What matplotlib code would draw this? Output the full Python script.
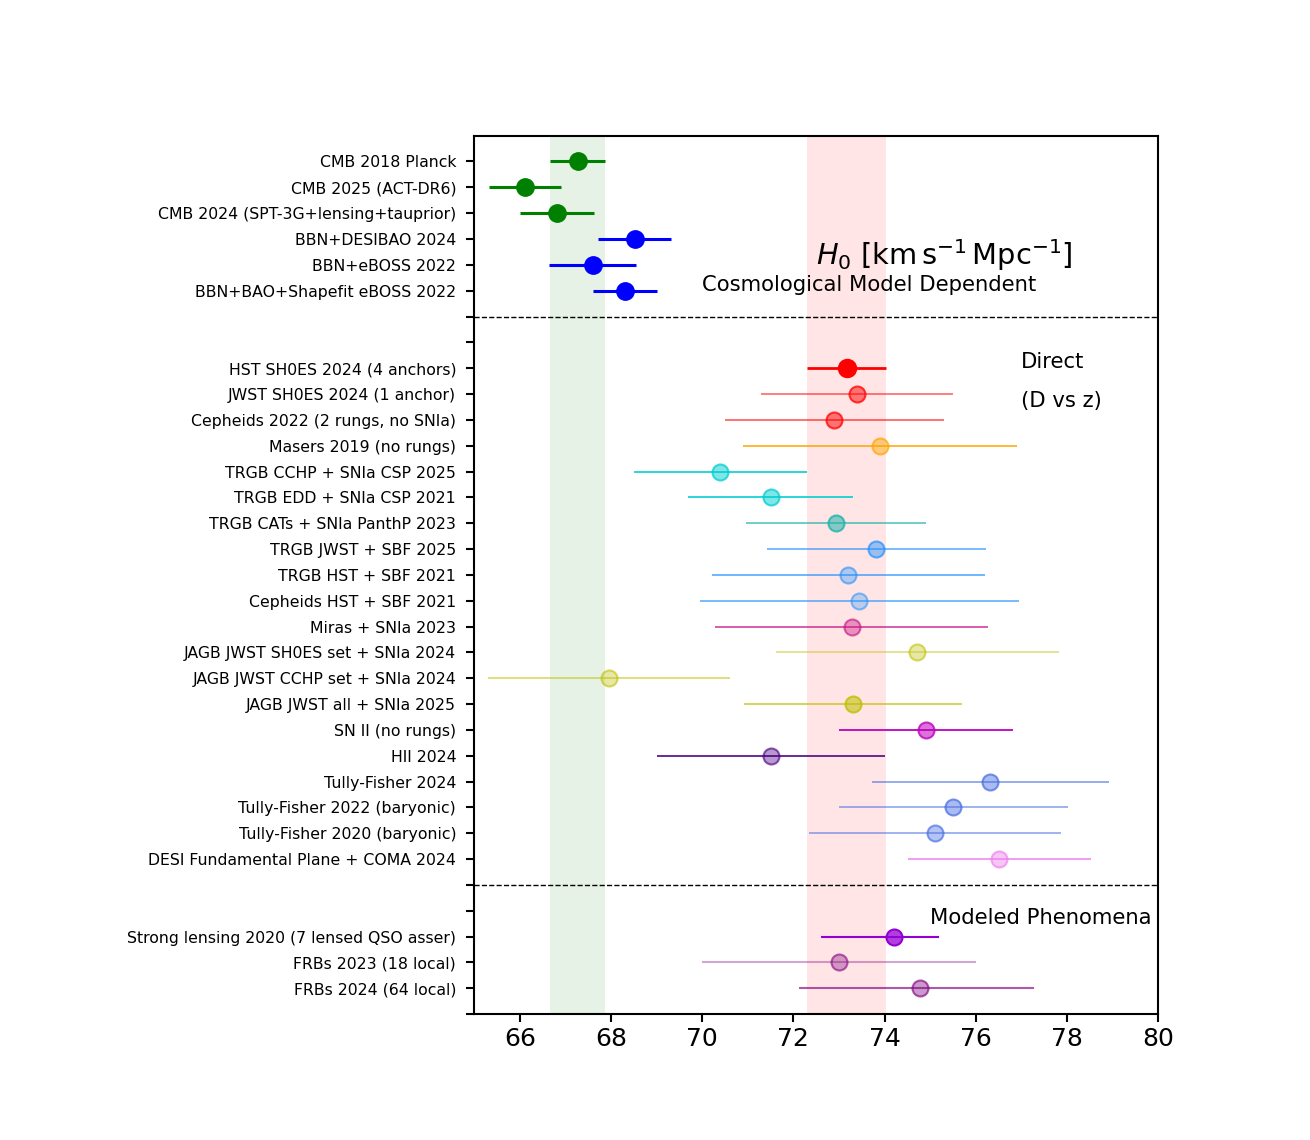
import matplotlib
matplotlib.use("Agg")
import matplotlib.pyplot as plt
from matplotlib.colors import to_rgba

# ---------------- data ----------------
labels_cosmo = ["CMB 2018 Planck", "CMB 2025 (ACT-DR6)", "CMB 2024 (SPT-3G+lensing+tauprior)",
                "BBN+DESIBAO 2024", "BBN+eBOSS 2022", "BBN+BAO+Shapefit eBOSS 2022"]
h0_cosmo = [67.27, 66.11, 66.81, 68.52, 67.60, 68.30]
err_cosmo = [0.60, 0.79, 0.81, 0.80, 0.95, 0.70]
colors_cosmo = ["green", "green", "green", "blue", "blue", "blue"]

labels_direct = ["HST SH0ES 2024 (4 anchors)", "JWST SH0ES 2024 (1 anchor)",
                 "Cepheids 2022 (2 rungs, no SNIa)", "Masers 2019 (no rungs)",
                 "TRGB CCHP + SNIa CSP 2025", "TRGB EDD + SNIa CSP 2021",
                 "TRGB CATs + SNIa PanthP 2023", "TRGB JWST + SBF 2025",
                 "TRGB HST + SBF 2021", "Cepheids HST + SBF 2021", "Miras + SNIa 2023",
                 "JAGB JWST SH0ES set + SNIa 2024", "JAGB JWST CCHP set + SNIa 2024",
                 "JAGB JWST all + SNIa 2025", "SN II (no rungs)", "HII 2024",
                 "Tully-Fisher 2024", "Tully-Fisher 2022 (baryonic)",
                 "Tully-Fisher 2020 (baryonic)", "DESI Fundamental Plane + COMA 2024"]
h0_direct = [73.17, 73.40, 72.90, 73.90, 70.39, 71.50, 72.94, 73.82, 73.21, 73.45,
             73.29, 74.71, 67.96, 73.31, 74.91, 71.51, 76.32, 75.51, 75.10, 76.52]
errlo_direct = [0.86, 2.10, 2.40, 3.00, 1.89, 1.80, 1.97, 2.40, 3.00, 3.50,
                3.00, 3.10, 2.65, 2.40, 1.90, 2.50, 2.60, 2.50, 2.75, 2.00]
errhi_direct = [0.86, 2.10, 2.40, 3.00, 1.91, 1.80, 1.98, 2.40, 3.00, 3.50,
                2.97, 3.12, 2.66, 2.40, 1.90, 2.50, 2.61, 2.51, 2.77, 2.01]
colors_direct = ["red", "red", "red", "orange", "darkturquoise", "darkturquoise",
                 "lightseagreen", "dodgerblue", "dodgerblue", "dodgerblue",
                 "mediumvioletred", "y", "y", "y", "m", "indigo",
                 "royalblue", "royalblue", "royalblue", "violet"]
malpha_direct = [1.0, 0.5, 0.5, 0.45, 0.5, 0.5, 0.55, 0.45, 0.35, 0.3,
                 0.4, 0.35, 0.35, 0.55, 0.55, 0.4, 0.45, 0.45, 0.4, 0.45]
lalpha_direct = [1.0, 0.55, 0.6, 0.85, 0.9, 0.9, 0.7, 0.65, 0.7, 0.65,
                 0.75, 0.45, 0.55, 0.7, 1.0, 0.9, 0.6, 0.55, 0.55, 0.85]

labels_model = ["Strong lensing 2020 (7 lensed QSO asser)", "FRBs 2023 (18 local)",
                "FRBs 2024 (64 local)"]
h0_model = [74.20, 73.00, 74.77]
errlo_model = [1.60, 3.00, 2.64]
errhi_model = [1.00, 3.00, 2.52]
colors_model = ["darkviolet", "purple", "purple"]
malpha_model = [0.75, 0.35, 0.4]
lalpha_model = [1.0, 0.35, 0.65]

planck_band = (67.27, 0.60)
shoes_band = (73.17, 0.86)

xticks = [66, 68, 70, 72, 74, 76, 78, 80]

# ---------------- figure ----------------
fig, ax = plt.subplots(figsize=(13.1, 11.4), dpi=100)
fig.subplots_adjust(left=0.362, right=0.884, top=0.881, bottom=0.1105)

ax.axvspan(planck_band[0] - planck_band[1], planck_band[0] + planck_band[1],
           color="green", alpha=0.1, lw=0, zorder=0)
ax.axvspan(shoes_band[0] - shoes_band[1], shoes_band[0] + shoes_band[1],
           color="red", alpha=0.1, lw=0, zorder=0)

ylabels = {}
pos = 1
# cosmological model dependent
for lab, v, e, c in zip(labels_cosmo, h0_cosmo, err_cosmo, colors_cosmo):
    ax.errorbar(v, pos, xerr=e, fmt="o", color=c, ms=12.5, elinewidth=2.2, zorder=3)
    ylabels[pos] = lab
    pos += 1
sep1 = pos
pos += 2
for i, (lab, v, lo, hi, c, ma, la) in enumerate(zip(labels_direct, h0_direct, errlo_direct,
                                               errhi_direct, colors_direct,
                                               malpha_direct, lalpha_direct)):
    big = (i == 0)
    ax.errorbar(v, pos, xerr=[[lo], [hi]], fmt="none", ecolor=to_rgba(c, la),
                elinewidth=2.0 if big else 1.3, zorder=3)
    ax.plot(v, pos, "o", ms=12.5 if big else 11.5, mfc=to_rgba(c, ma),
            mec=to_rgba(c, min(1, ma + 0.25)), mew=1.5, zorder=4)
    ylabels[pos] = lab
    pos += 1
sep2 = pos
pos += 2
for lab, v, lo, hi, c, ma, la in zip(labels_model, h0_model, errlo_model, errhi_model,
                                     colors_model, malpha_model, lalpha_model):
    ax.errorbar(v, pos, xerr=[[lo], [hi]], fmt="none", ecolor=to_rgba(c, la),
                elinewidth=1.5, zorder=3)
    ax.plot(v, pos, "o", ms=11.5, mfc=to_rgba(c, ma),
            mec=to_rgba(c, min(1, ma + 0.25)), mew=1.5, zorder=4)
    ylabels[pos] = lab
    pos += 1
ymax = pos

ax.axhline(sep1, color="black", ls="--", lw=1)
ax.axhline(sep2, color="black", ls="--", lw=1)

yt = list(range(1, ymax + 1))
ax.set_yticks(yt)
ax.set_yticklabels([ylabels.get(t, "") for t in yt], fontsize=11.3)
ax.set_ylim(ymax, 0)
ax.set_xlim(65, 80)
ax.set_xticks(xticks)
ax.tick_params(axis="x", labelsize=18, width=1.5, length=6)
ax.tick_params(axis="y", width=1.5, length=6, pad=7)
for s in ax.spines.values():
    s.set_linewidth(1.5)

ax.text(72.5, 5.0, r"$H_0$ [km$\,$s$^{-1}\,$Mpc$^{-1}$]", fontsize=20.8)
ax.text(70.0, 6.0, "Cosmological Model Dependent", fontsize=15.2)
ax.text(77.0, 9.0, "Direct", fontsize=15.2)
ax.text(77.0, 10.5, "(D vs z)", fontsize=15.2)
ax.text(75.0, 30.5, "Modeled Phenomena", fontsize=15.2)

fig.savefig("out.png", dpi=100)
